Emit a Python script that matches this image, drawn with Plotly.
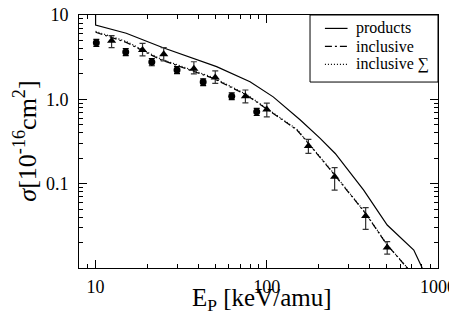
import plotly.graph_objects as go

# ---- data ----
circ_E = [10.1, 15.0, 21.3, 29.9, 42.5, 62.4, 87.3]
circ_s = [4.69, 3.64, 2.77, 2.23, 1.60, 1.09, 0.713]
circ_err = [0.45, 0.35, 0.27, 0.21, 0.15, 0.10, 0.07]

tri_E = [12.4, 18.8, 25.0, 37.5, 50.0, 75.0, 100.0, 175.0, 249.0, 378.0, 505.0]
tri_s = [4.95, 3.85, 3.42, 2.31, 1.82, 1.09, 0.76, 0.279, 0.121, 0.0413, 0.0175]
tri_hi = [5.70, 4.60, 4.10, 2.79, 2.18, 1.29, 0.90, 0.336, 0.155, 0.052, 0.0205]
tri_lo = [4.10, 3.27, 2.85, 2.00, 1.55, 0.91, 0.62, 0.229, 0.084, 0.0287, 0.0146]

prod_E = [10.0, 10.0, 15.1, 24.8, 50.9, 79.8, 109.0, 157.0, 205.0, 251.0, 368.0, 461.0, 505.0, 722.0, 809.0]
prod_s = [20.0, 7.6, 6.07, 4.09, 2.44, 1.62, 1.07, 0.568, 0.344, 0.228, 0.084, 0.0425, 0.0323, 0.0163, 0.0100]

incl_E = [10.0, 15.1, 23.7, 48.7, 76.4, 109.0, 150.0, 175.0, 245.0, 377.0, 505.0, 661.0]
incl_s = [6.24, 4.74, 2.98, 1.77, 1.12, 0.683, 0.433, 0.300, 0.132, 0.0445, 0.0187, 0.0100]

sum_E = [10.0, 15.1, 23.7, 48.7, 76.4, 109.0, 150.0, 175.0, 245.0, 377.0, 505.0, 665.0]
sum_s = [6.40, 4.86, 3.05, 1.81, 1.14, 0.695, 0.440, 0.304, 0.134, 0.0450, 0.0189, 0.0100]

x_ticks = [10, 100, 1000]
x_labels = ["10", "100", "1000"]
y_ticks = [10, 1, 0.1]
y_labels = ["10", "1.0", "0.1"]

legend_names = ["products", "inclusive", "inclusive ∑"]
legend_dashes = ["solid", "7px,3px,2px,3px", "1px,2px"]

SERIF = "Liberation Serif"

fig = go.Figure()

fig.add_trace(go.Scatter(x=prod_E, y=prod_s, mode="lines", name=legend_names[0],
                         line=dict(color="black", width=1.2, dash=legend_dashes[0])))
fig.add_trace(go.Scatter(x=incl_E, y=incl_s, mode="lines", name=legend_names[1],
                         line=dict(color="black", width=1.2, dash=legend_dashes[1])))
fig.add_trace(go.Scatter(x=sum_E, y=sum_s, mode="lines", name=legend_names[2],
                         line=dict(color="black", width=1.2, dash=legend_dashes[2])))

fig.add_trace(go.Scatter(
    x=circ_E, y=circ_s, mode="markers", showlegend=False,
    marker=dict(symbol="circle", size=7, color="black", line=dict(width=0)),
    error_y=dict(type="data", array=circ_err, arrayminus=circ_err,
                 color="black", thickness=1.2, width=3)))

fig.add_trace(go.Scatter(
    x=tri_E, y=tri_s, mode="markers", showlegend=False,
    marker=dict(symbol="triangle-up", size=8, color="black"),
    error_y=dict(type="data",
                 array=[h - s for h, s in zip(tri_hi, tri_s)],
                 arrayminus=[s - l for s, l in zip(tri_s, tri_lo)],
                 color="#333333", thickness=1.2, width=3)))

x_minor = [v * m for v in (1, 10, 100) for m in range(2, 10) if 8 <= v * m <= 1000]
y_minor = [v * m for v in (0.01, 0.1, 1) for m in range(2, 10)]

fig.update_xaxes(
    type="log", range=[0.90309, 3.0], automargin=False, ticklabeloverflow="allow",
    tickvals=x_ticks, ticktext=x_labels,
    ticks="inside", ticklen=8, tickwidth=1, tickcolor="black",
    minor=dict(tickvals=x_minor, ticks="inside", ticklen=4, tickwidth=1, tickcolor="black", showgrid=False),
    showline=True, linecolor="black", linewidth=1, mirror="ticks",
    showgrid=False, zeroline=False,
    tickfont=dict(family=SERIF, size=18, color="black"),
    ticklabelstandoff=2,
)
fig.update_yaxes(
    type="log", range=[-2.0, 1.0], automargin=False, ticklabeloverflow="allow",
    tickvals=y_ticks, ticktext=y_labels,
    ticks="inside", ticklen=8, tickwidth=1, tickcolor="black",
    minor=dict(tickvals=y_minor, ticks="inside", ticklen=4, tickwidth=1, tickcolor="black", showgrid=False),
    showline=True, linecolor="black", linewidth=1, mirror="ticks",
    showgrid=False, zeroline=False,
    tickfont=dict(family=SERIF, size=18, color="black"),
    ticklabelstandoff=6,
)

# axis titles
fig.add_annotation(text="E<sub>P</sub> [keV/amu]", xref="paper", yref="paper",
                   x=0.51, y=-0.126, xanchor="center", yanchor="middle", showarrow=False,
                   font=dict(family=SERIF, size=25, color="black"))
fig.add_annotation(text="<i>σ</i>[10<sup>-16</sup>cm<sup>2</sup>]", xref="paper", yref="paper",
                   x=-0.150, y=0.5, xanchor="center", yanchor="middle", showarrow=False,
                   textangle=-90, font=dict(family=SERIF, size=26, color="black"))

# legend box (drawn by hand to match spacing)
fig.add_shape(type="rect", xref="paper", yref="paper", x0=0.6435, x1=1.0, y0=0.735, y1=1.0,
              line=dict(color="black", width=1), fillcolor="white", layer="above")
leg_y = [0.947, 0.876, 0.805]
for name, dash, yy in zip(legend_names, legend_dashes, leg_y):
    fig.add_shape(type="line", xref="paper", yref="paper", x0=0.685, x1=0.748, y0=yy, y1=yy,
                  line=dict(color="black", width=1.2, dash=dash), layer="above")
    fig.add_annotation(text=name, xref="paper", yref="paper", x=0.765, y=yy,
                       xanchor="left", yanchor="middle", showarrow=False,
                       font=dict(family=SERIF, size=16, color="black"))

# the page has an 8px body margin: size the figure 8px smaller so the plot
# area lands at the same window pixels as in the reference
fig.update_layout(
    width=449, height=314,
    margin=dict(l=71, r=19, t=7, b=54),
    paper_bgcolor="white", plot_bgcolor="white",
    showlegend=False,
)

fig.write_html("out.html")
